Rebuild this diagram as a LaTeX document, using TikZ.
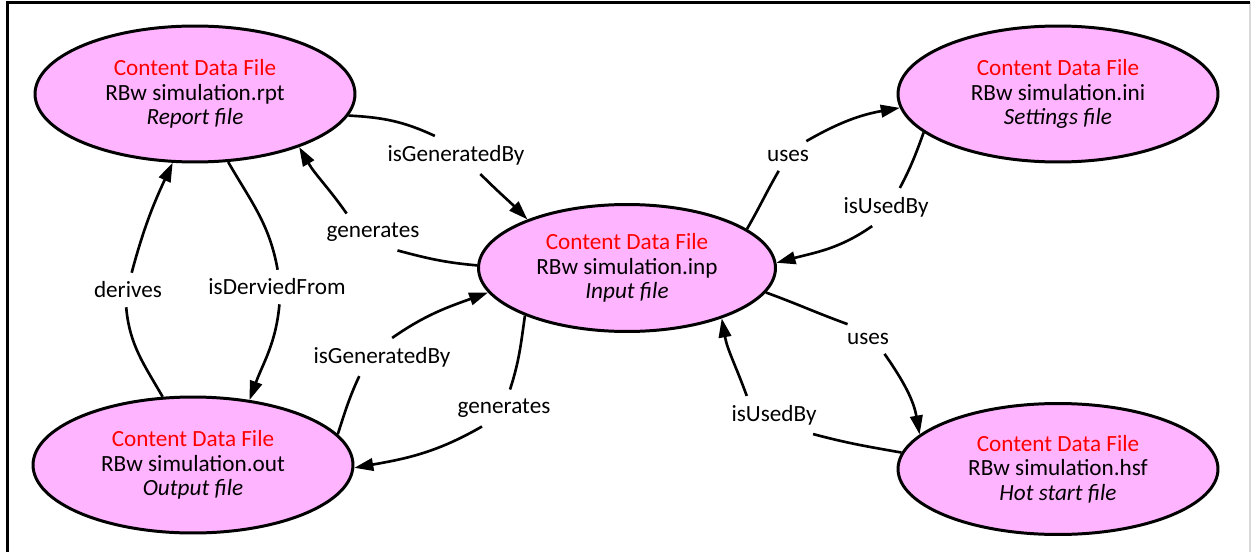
\documentclass[tikz,border=0pt]{standalone}
\usepackage{fontspec}
\setmainfont{Carlito}
\usepackage{tikz}
\usetikzlibrary{shapes.geometric,arrows.meta}
\definecolor{filepink}{RGB}{255,180,255}

\begin{document}
\begin{tikzpicture}[x=0.02cm,y=0.02cm,
    font=\fontsize{13.2}{13.9}\selectfont,
    >={Triangle[length=0.38cm,width=0.25cm]},
    datafile/.style={ellipse, draw, line width=1.7pt, fill=filepink, align=center,
        minimum width=6.4cm, minimum height=2.72cm},
    relname/.style={inner sep=5pt},
    link/.style={line width=1.5pt}]
    \useasboundingbox (0,0) rectangle (1253,552);
    % frame
    \draw[gray!30, line width=0.6pt] (1250,549.5) -- (1250,0);
    \draw[line width=1.6pt] (7.3,0) -- (7.3,549.5) -- (1250,549.5);

    % files
    \node[datafile] (rpt) at (195,458) {\textcolor{red}{Content Data File}\\RBw simulation.rpt\\\textit{Report file}};
    \node[datafile, minimum width=5.94cm, minimum height=2.54cm] (inp) at (627,284) {\textcolor{red}{Content Data File}\\RBw simulation.inp\\\textit{Input file}};
    \node[datafile] (ini) at (1058,458) {\textcolor{red}{Content Data File}\\RBw simulation.ini\\\textit{Settings file}};
    \node[datafile] (outp) at (193,87) {\textcolor{red}{Content Data File}\\RBw simulation.out\\\textit{Output file}};
    \node[datafile, minimum height=2.62cm] (hsf) at (1058,83) {\textcolor{red}{Content Data File}\\RBw simulation.hsf\\\textit{Hot start file}};

    % relation names
    \node[relname] (genby1) at (456,397) {isGeneratedBy};
    \node[relname] (gen1) at (373,320) {generates};
    \node[relname] (derfrom) at (277,265) {isDerviedFrom};
    \node[relname] (der) at (128,262) {derives};
    \node[relname] (genby2) at (382,195) {isGeneratedBy};
    \node[relname] (gen2) at (504,144) {generates};
    \node[relname] (uses1) at (788,396) {uses};
    \node[relname] (usedby1) at (886,345) {isUsedBy};
    \node[relname] (uses2) at (868,213) {uses};
    \node[relname] (usedby2) at (774,137) {isUsedBy};

    % links
    \draw[link] (rpt.-8) to[out=-3,in=155] (genby1.138);
    \draw[link,->] (genby1.-38) to[out=-45,in=135] (inp.154);
    \draw[link] (inp.179) to[out=175,in=-15] (gen1.-37);
    \draw[link,->] (gen1.145) to[out=125,in=-60] (rpt.-27);
    \draw[link] (rpt.-64) to[out=-60,in=100] (derfrom.88);
    \draw[link,->] (derfrom.-82) to[out=-95,in=70] (outp.49);
    \draw[link] (outp.114) to[out=120,in=-85] (der.-96);
    \draw[link,->] (der.78) to[out=75,in=-115] (rpt.-108);
    \draw[link] (outp.12) to[out=72,in=-115] (genby2.-140);
    \draw[link,->] (genby2.62) to[out=35,in=-160] (inp.-170);
    \draw[link] (inp.-155) to[out=-98,in=72] (gen2.72);
    \draw[link,->] (gen2.-140) to[out=-150,in=10] (outp.-1);
    \draw[link] (inp.18) to[out=60,in=-120] (uses1.-122);
    \draw[link,->] (uses1.39) to[out=30,in=-170] (ini.185);
    \draw[link] (ini.196) to[out=-110,in=62] (usedby1.54);
    \draw[link,->] (usedby1.-126) to[out=-145,in=15] (inp.2);
    \draw[link] (inp.-10) to[out=-20,in=160] (uses2.144);
    \draw[link,->] (uses2.-42) to[out=-55,in=100] (hsf.166);
    \draw[link] (hsf.174) to[out=170,in=-15] (usedby2.-26);
    \draw[link,->] (usedby2.145) to[out=110,in=-80] (inp.-28);
\end{tikzpicture}
\end{document}
